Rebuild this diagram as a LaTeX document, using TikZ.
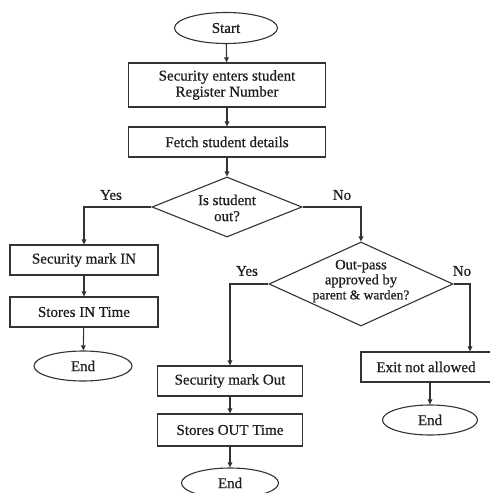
\documentclass[tikz,border=0pt]{standalone}
\usepackage{fontspec}
\setmainfont{Liberation Serif}
\newfontfamily\heavyfont{Liberation Serif}[FakeBold=0.6]
\usetikzlibrary{shapes.geometric,arrows.meta,calc}
\definecolor{ln}{HTML}{333333}
\definecolor{tx}{HTML}{1E1E1E}
\tikzset{
  base/.style={draw=ln, line width=1.1pt, text=tx, font=\heavyfont\fontsize{15}{16}\selectfont, align=center, inner sep=0pt},
  procbox/.style={base, rectangle, minimum height=30pt},
  term/.style={base, ellipse, minimum height=30pt},
  decide/.style={base, diamond},
  arr/.style={draw=ln, line width=1.1pt, -{Triangle[length=5pt,width=4.5pt]}},
  lbl/.style={text=tx, font=\heavyfont\fontsize{15}{16}\selectfont, inner sep=0pt}
}
\begin{document}
\begin{tikzpicture}[x=1pt,y=-1pt]
\useasboundingbox[fill=white] (0,0) rectangle (490,493);
\node[term, minimum width=103pt, minimum height=31pt] (start) at (226,28) {Start};
\node[procbox, minimum width=197pt, minimum height=44pt] (reg) at (227,85) {Security enters student\\Register Number};
\node[procbox, minimum width=197pt] (fetch) at (227,142) {Fetch student details};
\node[decide, minimum width=150pt, minimum height=60pt] (out) at (227,207) {};
\node[lbl, align=center, font=\heavyfont\fontsize{15}{16}\selectfont] (outt) at (227,208) {Is student\\out?};
\node[procbox, minimum width=148pt] (min) at (84,260) {Security mark IN};
\node[procbox, minimum width=148pt] (sin) at (84,312) {Stores IN Time};
\node[term, minimum width=98pt] (end1) at (83,366) {End};
\node[decide, minimum width=184pt, minimum height=84pt] (pass) at (361,284) {};
\node[lbl, align=center, font=\heavyfont\fontsize{14.5}{15}\selectfont] (passt) at (361,281) {Out-pass\\approved by\\{\fontsize{13.5}{15}\selectfont parent \& warden?}};
\node[procbox, minimum width=145pt] (mout) at (230,381) {Security mark Out};
\node[procbox, minimum width=145pt, minimum height=32pt] (sout) at (230,430) {Stores OUT Time};
\node[term, minimum width=97pt] (end2) at (230,483) {End};
\node[procbox, minimum width=130pt] (exit) at (426,367) {Exit not allowed};
\node[term, minimum width=95pt] (end3) at (430,420) {End};
\node[lbl] (y1) at (111,195) {Yes};
\node[lbl] (n1) at (342,195) {No};
\node[lbl] (y2) at (247,271) {Yes};
\node[lbl] (n2) at (462,271) {No};
\coordinate (nr) at (470,284);
\draw[arr] (start) -- (reg);
\draw[arr] (reg) -- (fetch);
\draw[arr] (fetch) -- (out);
\draw[arr] (out.west) -| (min.north);
\draw[arr] (out.east) -| (pass.north);
\draw[arr] (min) -- (sin);
\draw[arr] (sin) -- (end1);
\draw[arr] (pass.west) -| (mout.north);
\draw[arr] (mout) -- (sout);
\draw[arr] (sout) -- (end2);
\draw[arr] (pass.east) -- (nr) -- (nr |- exit.north);
\draw[arr] (exit.south -| end3) -- (end3);
\end{tikzpicture}
\end{document}
